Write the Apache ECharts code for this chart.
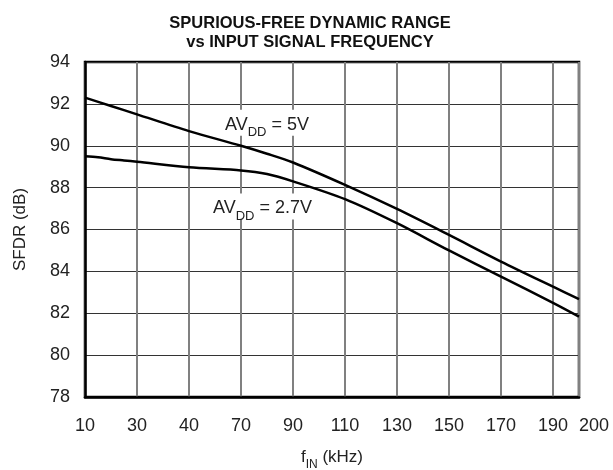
<!DOCTYPE html>
<html>
<head>
<meta charset="utf-8">
<script src="https://cdn.jsdelivr.net/npm/echarts@6/dist/echarts.min.js"></script>
<style>html,body{margin:0;padding:0;background:#fff}#c{width:613px;height:470px}</style>
</head>
<body>
<div id="c"></div>
<script>
var titleLines = ['SPURIOUS-FREE DYNAMIC RANGE', 'vs INPUT SIGNAL FREQUENCY'];
var xTickValues = [10, 30, 50, 70, 90, 110, 130, 150, 170, 190, 200];
var xTickLabels = ['10', '30', '40', '70', '90', '110', '130', '150', '170', '190', '200'];
var freq5V = [10, 20, 30, 50, 70, 80, 90, 110, 130, 150, 170, 190, 200];
var sfdr5V = [92.3, 91.9, 91.5, 90.7, 90.0, 89.62, 89.2, 88.13, 86.98, 85.74, 84.47, 83.27, 82.68];
var freq27V = [10, 15, 20, 25, 30, 50, 70, 80, 90, 110, 130, 150, 170, 190, 200];
var sfdr27V = [89.5, 89.45, 89.36, 89.3, 89.24, 88.97, 88.82, 88.65, 88.3, 87.45, 86.3, 85.0, 83.75, 82.5, 81.84];
var label5V = {text: '5V', coord: [62.7, 91.1]};
var label27V = {text: '2.7V', coord: [58.1, 87.1]};

function pairs(xs, ys) { return xs.map(function (x, i) { return [x, ys[i]]; }); }

var font = 'Liberation Sans, Arial, Helvetica, sans-serif';
function annot(l) {
  return {
    coord: l.coord,
    symbol: 'circle',
    symbolSize: 0,
    label: {
      show: true,
      position: 'right',
      distance: 0,
      backgroundColor: '#fff',
      padding: [2, 3, 2, 3],
      formatter: '{a|AV}{s|DD}{a| = ' + l.text + '}',
      rich: {
        a: {fontSize: 18, fontFamily: font, color: '#222', verticalAlign: 'bottom', lineHeight: 22},
        s: {fontSize: 13, fontFamily: font, color: '#222', verticalAlign: 'bottom', lineHeight: 16, padding: [0, 0, -5, 0]}
      }
    }
  };
}

var chart = echarts.init(document.getElementById('c'), null, {renderer: 'canvas'});
chart.setOption({
  animation: false,
  backgroundColor: '#fff',
  title: {
    text: titleLines.join('\n'),
    left: 305,
    top: 9,
    textAlign: 'center',
    textStyle: {fontFamily: font, fontWeight: 'bold', fontSize: 16.5, lineHeight: 19, color: '#111'}
  },
  grid: {left: 85, right: 34, top: 62, bottom: 73, show: true, borderColor: '#000', borderWidth: 2.5,
         backgroundColor: 'transparent', containLabel: false, outerBoundsMode: 'none'},
  xAxis: {
    type: 'value', min: 10, max: 200, interval: 20,
    name: '{f|f}{s|IN}{f| (kHz)}',
    nameLocation: 'middle', nameGap: 49,
    nameTextStyle: {
      rich: {
        f: {fontSize: 17, fontFamily: font, color: '#222', verticalAlign: 'bottom', lineHeight: 20},
        s: {fontSize: 12, fontFamily: font, color: '#222', verticalAlign: 'bottom', lineHeight: 14, padding: [0, 0, -5, 0]}
      }
    },
    axisLine: {show: true, lineStyle: {color: '#000', width: 2.5}},
    axisTick: {show: false},
    splitLine: {show: true, lineStyle: {color: '#808080', width: 2}},
    axisLabel: {
      fontSize: 18, fontFamily: font, color: '#222', margin: 20,
      showMaxLabel: true, hideOverlap: false, alignMaxLabel: 'left',
      formatter: function (v) { var i = xTickValues.indexOf(v); return i >= 0 ? xTickLabels[i] : ''; }
    }
  },
  yAxis: {
    type: 'value', min: 78, max: 94, interval: 2,
    name: 'SFDR (dB)', nameLocation: 'middle', nameGap: 56, nameRotate: 90,
    nameTextStyle: {fontSize: 17, fontFamily: font, color: '#222'},
    axisLine: {show: true, lineStyle: {color: '#000', width: 2.5}},
    axisTick: {show: false},
    splitLine: {show: true, lineStyle: {color: '#333', width: 1.2}},
    axisLabel: {fontSize: 18, fontFamily: font, color: '#222', margin: 15}
  },
  series: [
    {
      name: 'AVDD = 5V', type: 'line', data: pairs(freq5V, sfdr5V), smooth: 0.3, showSymbol: false,
      lineStyle: {color: '#000', width: 2.5}, z: 3,
      markPoint: {silent: true, data: [annot(label5V)]}
    },
    {
      name: 'AVDD = 2.7V', type: 'line', data: pairs(freq27V, sfdr27V), smooth: 0.3, showSymbol: false,
      lineStyle: {color: '#000', width: 2.5}, z: 3,
      markPoint: {silent: true, data: [annot(label27V)]}
    }
  ]
});
</script>
</body>
</html>
